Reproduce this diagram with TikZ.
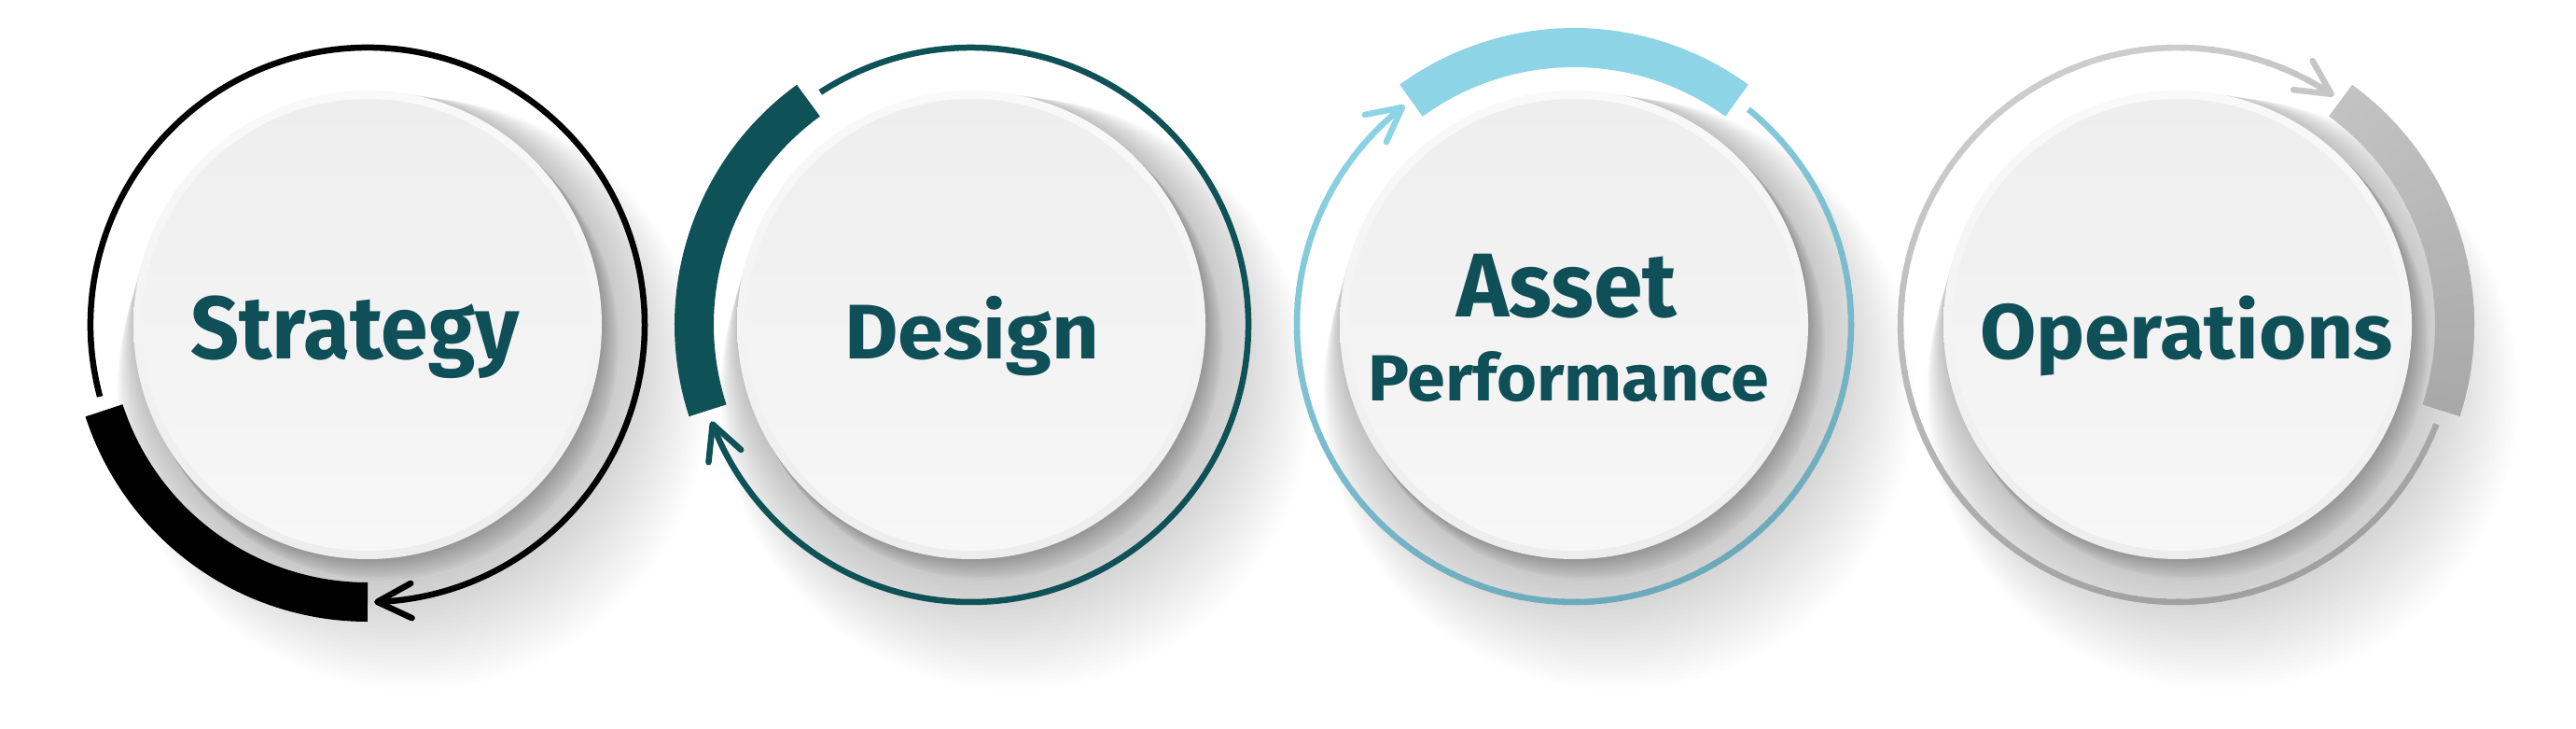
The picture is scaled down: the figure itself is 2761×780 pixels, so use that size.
\documentclass[tikz,border=0pt]{standalone}
\usepackage{fontspec}
\setmainfont{Fira Sans}
\usetikzlibrary{calc}
\definecolor{txtcol}{HTML}{0F4F57}
\definecolor{cDesign}{HTML}{0E5157}
\definecolor{cAssetL}{HTML}{8DD4E6}
\definecolor{cAssetD}{HTML}{6CA9BB}
\definecolor{cOpsL}{HTML}{CDCDCD}
\definecolor{cOpsD}{HTML}{A0A0A0}
\definecolor{rimL}{HTML}{F9F9F9}
\definecolor{rimD}{HTML}{EDEDED}
\definecolor{faceL}{HTML}{F7F7F7}
\definecolor{faceD}{HTML}{EEEEEE}
\newcommand{\chev}[3]{%
  \draw[#3, line width=6.5, line cap=round, line join=round]
    ($(#1)+(#2:297)+(#2+117:41)$) -- ($(#1)+(#2:297)$) -- ($(#1)+(#2:297)+(#2+63:41)$);}
\newcommand{\gradarc}[7]{%
  \pgfmathsetmacro\gaN{int(ceil(abs(#3-#2)/3))}
  \pgfmathsetmacro\gaS{(#3-#2)/\gaN}
  \foreach \i in {1,...,\gaN}{
    \pgfmathsetmacro\ga{#2+\gaS*(\i-1)}
    \pgfmathsetmacro\gb{#2+\gaS*min(\i+0.25,\gaN)}
    \pgfmathsetmacro\gp{int(100*(1-cos((\ga+\gb)/2-#7))/2)}
    \draw[color=#5!\gp!#6, line width=#4] ($(#1)+(\ga:297)$) arc[start angle=\ga, end angle=\gb, radius=297];
  }}
\tikzset{
  label/.style={inner sep=0pt, outer sep=0pt, text=txtcol, font=\bfseries, anchor=base west},
}
\begin{document}
\begin{tikzpicture}[x=1pt,y=1pt]
\useasboundingbox (0,0) rectangle (2761,780);
\fill[white] (0,0) rectangle (2761,780);
\coordinate (C1) at (394,432);
\coordinate (C2) at (1041,432);
\coordinate (C3) at (1687,432);
\coordinate (C4) at (2334,432);
% shadows
\foreach \c in {C1,C2,C3,C4}{
  \foreach \i in {1,...,30}{
    \pgfmathsetmacro\t{\i/30}
    \fill[black,opacity=0.006] ($(\c)+(48*\t,-74*\t)$) circle ({251+66*\t});
  }
  \foreach \i in {1,...,14}{
    \pgfmathsetmacro\t{\i/14}
    \fill[black,opacity=0.017] ($(\c)+(15*\t,-19*\t)$) circle ({251+3*\t});
  }
}
% discs
\foreach \c in {C1,C2,C3,C4}{
  \shade[shading angle=45, top color=rimL, bottom color=rimD] (\c) circle (251);
  \shade[shading angle=45, top color=faceD, bottom color=faceL] (\c) circle (242);
}
% Strategy
\draw[black, line width=42] ($(C1)+(198:297)$) arc[start angle=198, end angle=270, radius=297];
\draw[black, line width=6.5] ($(C1)+(195:297)$) arc[start angle=195, end angle=-88, radius=297];
\chev{C1}{-88}{black}
% Design
\draw[cDesign, line width=42] ($(C2)+(126:297)$) arc[start angle=126, end angle=198, radius=297];
\draw[cDesign, line width=6.5] ($(C2)+(123:297)$) arc[start angle=123, end angle=-159, radius=297];
\chev{C2}{-159}{cDesign}
% Asset Performance
\draw[cAssetL, line width=42] ($(C3)+(54:297)$) arc[start angle=54, end angle=126, radius=297];
\gradarc{C3}{51}{-231.7}{6.5}{cAssetL}{cAssetD}{-70}
\chev{C3}{128.3}{cAssetL}
% Operations
\gradarc{C4}{-18}{54}{42}{cOpsL}{cOpsD}{-70}
\gradarc{C4}{-21}{-303.7}{6.5}{cOpsL}{cOpsD}{-70}
\chev{C4}{56.3}{cOpsL!85!cOpsD}
% labels
\node[label] (tStrat) at (204.4,395.4) {\resizebox{352pt}{67.6pt}{Strategy}};
\node[label] (tDesign) at (905,395.4) {\resizebox{273pt}{67.2pt}{Design}};
\node[label] (tAsset) at (1561,440) {\resizebox{236pt}{67.3pt}{Asset}};
\node[label] (tPerf) at (1466.6,351) {\resizebox{429.5pt}{53pt}{Performance}};
\node[label] (tOps) at (2122,395.4) {\resizebox{443pt}{67.6pt}{Operations}};
\end{tikzpicture}
\end{document}
